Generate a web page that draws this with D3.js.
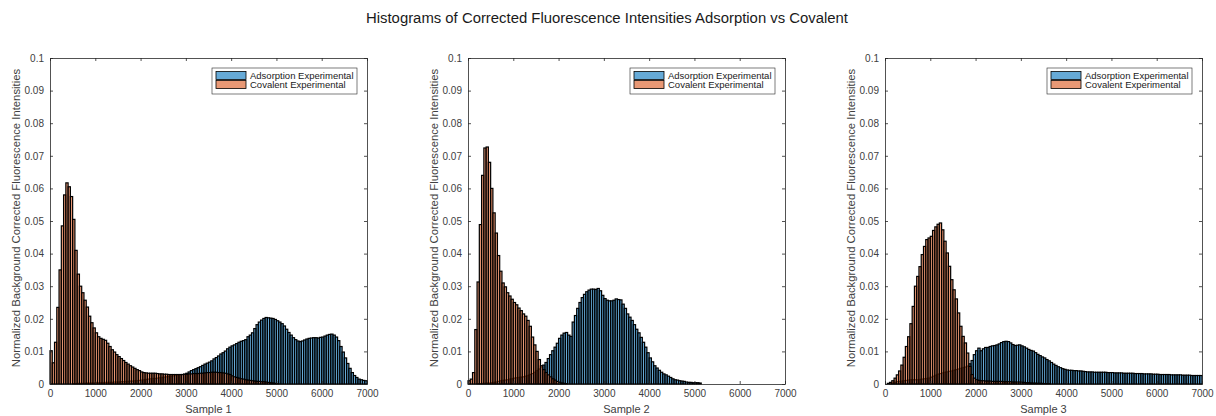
<!DOCTYPE html>
<html>
<head>
<meta charset="utf-8">
<script src="https://cdn.jsdelivr.net/npm/d3@7"></script>
<style>
  body { margin: 0; background: #fff; }
  text { font-family: "Liberation Sans", Arial, Helvetica, sans-serif; }
</style>
</head>
<body>
<div id="chart"></div>
<script>
// bins are 50 wide, starting at 0
var binWidth = 50;
var xTicks = [0, 1000, 2000, 3000, 4000, 5000, 6000, 7000];
var yTicks = [0, 0.01, 0.02, 0.03, 0.04, 0.05, 0.06, 0.07, 0.08, 0.09, 0.1];
var sampleNames = ["Sample 1", "Sample 2", "Sample 3"];
var seriesNames = ["Adsorption Experimental", "Covalent Experimental"];

// Sample 1
var adsorption1 = [
  0,0,0,0,0,0,0,0,0,0,
  0.0001,0.0001,0.0002,0.0002,0.0002,0.0002,0.0003,0.0003,0.0003,0.0003,
  0.0004,0.0004,0.0004,0.0004,0.0005,0.0005,0.0005,0.0005,0.0006,0.0006,
  0.0006,0.0007,0.0007,0.0008,0.0008,0.0009,0.0009,0.0010,0.0010,0.0011,
  0.0012,0.0013,0.0014,0.0015,0.0016,0.0017,0.0017,0.0018,0.0019,0.0020,
  0.0021,0.0022,0.0023,0.0024,0.0025,0.0026,0.0027,0.0028,0.0029,0.0030,
  0.0033,0.0037,0.0041,0.0044,0.0047,0.0050,0.0053,0.0057,0.0061,0.0064,
  0.0067,0.0071,0.0077,0.0081,0.0086,0.0092,0.0096,0.0101,0.0108,0.0113,
  0.0117,0.0120,0.0124,0.0128,0.0131,0.0133,0.0136,0.0145,0.0150,0.0157,
  0.0170,0.0182,0.0190,0.0196,0.0201,0.0204,0.0203,0.0202,0.0201,0.0198,
  0.0194,0.0190,0.0185,0.0178,0.0168,0.0158,0.0150,0.0142,0.0136,0.0132,
  0.0130,0.0132,0.0135,0.0138,0.0140,0.0141,0.0142,0.0142,0.0141,0.0143,
  0.0144,0.0147,0.0150,0.0152,0.0153,0.0150,0.0144,0.0133,0.0115,0.0098,
  0.0080,0.0063,0.0048,0.0035,0.0026,0.0020,0.0015,0.0013,0.0011,0.0010
];
var covalent1 = [
  0.0102,0.0065,0.0128,0.0235,0.0350,0.0485,0.0580,0.0617,0.0605,0.0575,
  0.0505,0.0410,0.0337,0.0300,0.0280,0.0257,0.0236,0.0208,0.0188,0.0172,
  0.0157,0.0145,0.0140,0.0137,0.0134,0.0125,0.0115,0.0105,0.0098,0.0090,
  0.0084,0.0078,0.0072,0.0066,0.0061,0.0056,0.0052,0.0048,0.0044,0.0041,
  0.0037,0.0035,0.0034,0.0033,0.0033,0.0033,0.0033,0.0032,0.0031,0.0031,
  0.0030,0.0030,0.0029,0.0029,0.0029,0.0029,0.0029,0.0029,0.0029,0.0030,
  0.0030,0.0031,0.0031,0.0032,0.0032,0.0032,0.0033,0.0033,0.0034,0.0035,
  0.0035,0.0036,0.0036,0.0036,0.0035,0.0035,0.0034,0.0033,0.0031,0.0029,
  0.0025,0.0022,0.0020,0.0018,0.0016,0.0015,0.0013,0.0012,0.0011,0.0010,
  0.0009,0.0008,0.0008,0.0007,0.0007,0.0006,0.0005,0.0004,0.0003,0.0002,
  0.0001
];

// Sample 2
var adsorption2 = [
  0,0,0,0,0.0001,0.0001,0.0002,0.0002,0.0003,0.0003,
  0.0004,0.0005,0.0006,0.0008,0.0010,0.0011,0.0012,0.0013,0.0015,0.0016,
  0.0018,0.0019,0.0020,0.0021,0.0022,0.0024,0.0026,0.0029,0.0032,0.0036,
  0.0041,0.0046,0.0052,0.0058,0.0066,0.0078,0.0090,0.0102,0.0113,0.0125,
  0.0140,0.0150,0.0156,0.0158,0.0150,0.0146,0.0190,0.0210,0.0232,0.0250,
  0.0265,0.0275,0.0283,0.0288,0.0291,0.0291,0.0290,0.0293,0.0286,0.0272,
  0.0262,0.0257,0.0255,0.0255,0.0257,0.0261,0.0259,0.0258,0.0245,0.0232,
  0.0215,0.0205,0.0195,0.0182,0.0168,0.0157,0.0143,0.0128,0.0113,0.0096,
  0.0080,0.0068,0.0056,0.0049,0.0042,0.0036,0.0031,0.0028,0.0024,0.0020,
  0.0016,0.0013,0.0012,0.0010,0.0009,0.0008,0.0006,0.0005,0.0005,0.0004,
  0.0004,0.0004,0.0003
];
var covalent2 = [
  0.0010,0.0015,0.0035,0.0167,0.0313,0.0489,0.0640,0.0724,0.0727,0.0680,
  0.0600,0.0525,0.0463,0.0394,0.0346,0.0310,0.0298,0.0280,0.0270,0.0260,
  0.0250,0.0243,0.0233,0.0225,0.0215,0.0208,0.0195,0.0177,0.0144,0.0120,
  0.0100,0.0075,0.0056,0.0044,0.0035,0.0028,0.0022,0.0016,0.0012,0.0008,
  0.0005,0.0003,0.0002,0.0001
];

// Sample 3
var adsorption3 = [
  0,0,0.0001,0.0003,0.0005,0.0007,0.0008,0.0009,0.0010,0.0011,
  0.0012,0.0013,0.0013,0.0013,0.0013,0.0014,0.0015,0.0016,0.0017,0.0018,
  0.0021,0.0024,0.0027,0.0030,0.0032,0.0034,0.0036,0.0037,0.0039,0.0040,
  0.0042,0.0044,0.0046,0.0048,0.0050,0.0052,0.0055,0.0062,0.0072,0.0090,
  0.0102,0.0110,0.0102,0.0108,0.0112,0.0112,0.0115,0.0117,0.0118,0.0120,
  0.0123,0.0127,0.0130,0.0131,0.0130,0.0126,0.0121,0.0118,0.0119,0.0120,
  0.0117,0.0114,0.0110,0.0106,0.0103,0.0101,0.0096,0.0091,0.0087,0.0083,
  0.0080,0.0075,0.0071,0.0066,0.0061,0.0057,0.0053,0.0050,0.0047,0.0045,
  0.0043,0.0042,0.0042,0.0041,0.0041,0.0040,0.0040,0.0039,0.0038,0.0037,
  0.0037,0.0037,0.0036,0.0036,0.0036,0.0036,0.0036,0.0036,0.0035,0.0035,
  0.0035,0.0034,0.0034,0.0034,0.0034,0.0033,0.0033,0.0033,0.0033,0.0033,
  0.0032,0.0032,0.0032,0.0032,0.0031,0.0031,0.0031,0.0031,0.0030,0.0030,
  0.0030,0.0029,0.0029,0.0029,0.0029,0.0029,0.0028,0.0028,0.0028,0.0028,
  0.0028,0.0027,0.0027,0.0027,0.0027,0.0026,0.0026,0.0026,0.0026,0.0026
];
var covalent3 = [
  0,0.0002,0.0005,0.0010,0.0018,0.0028,0.0040,0.0058,0.0082,0.0115,
  0.0145,0.0185,0.0238,0.0300,0.0330,0.0360,0.0397,0.0422,0.0443,0.0448,
  0.0453,0.0471,0.0482,0.0490,0.0494,0.0473,0.0438,0.0402,0.0361,0.0320,
  0.0289,0.0261,0.0218,0.0177,0.0146,0.0126,0.0095,0.0054,0.0029,0.0018,
  0.0013,0.0011,0.0010,0.0010,0.0009,0.0009,0.0009,0.0008,0.0008,0.0008,
  0.0008,0.0008,0.0007,0.0007,0.0007,0.0007,0.0006,0.0006,0.0006,0.0006,
  0.0005,0.0005,0.0004,0.0004,0.0003,0.0003,0.0003,0.0002,0.0002,0.0002,
  0.0001,0.0001,0.0001
];

var adsorptionData = [adsorption1, adsorption2, adsorption3];
var covalentData = [covalent1, covalent2, covalent3];

var svgWidth = 1216;
var svgHeight = 416;

// where each axes box sits in the figure
var panelLeft = [50, 468, 885];
var panelTop = 58;
var panelWidth = 317;
var panelHeight = 326;

var blue = "rgb(0,114,189)";
var orange = "rgb(217,83,25)";
var axisColor = "#262626";
var labelColor = "#404040";

var svg = d3
  .select("#chart")
  .append("svg")
  .attr("width", svgWidth)
  .attr("height", svgHeight);

svg.append("text")
  .attr("x", 607)
  .attr("y", 23)
  .attr("text-anchor", "middle")
  .attr("textLength", 482)
  .attr("lengthAdjust", "spacingAndGlyphs")
  .style("font-size", "14px")
  .attr("fill", "#1a1a1a")
  .text("Histograms of Corrected Fluorescence Intensities Adsorption vs Covalent");

var xScale = d3.scaleLinear().domain([0, 7000]).range([0, panelWidth]);
var yScale = d3.scaleLinear().domain([0, 0.1]).range([panelHeight, 0]);

function drawBars(g, values, color) {
  g.append("g")
    .selectAll("rect")
    .data(values)
    .enter()
    .append("rect")
    .attr("x", (d, i) => xScale(i * binWidth))
    .attr("y", d => yScale(d))
    .attr("width", xScale(binWidth) - xScale(0))
    .attr("height", d => panelHeight - yScale(d))
    .attr("fill", color)
    .attr("fill-opacity", 0.6)
    .attr("stroke", "#000")
    .attr("stroke-width", 1.2);
}

sampleNames.forEach(function(name, p) {
  var chartGroup = svg.append("g")
    .attr("transform", `translate(${panelLeft[p]}, ${panelTop})`);

  // histograms, adsorption first then covalent on top
  drawBars(chartGroup, adsorptionData[p], blue);
  drawBars(chartGroup, covalentData[p], orange);

  // axes with inward ticks, mirrored on top/right
  var bottomAxis = d3.axisBottom(xScale).tickValues(xTicks).tickSizeInner(-3).tickSizeOuter(0).tickPadding(6)
    .tickFormat(d3.format("d"));
  var leftAxis = d3.axisLeft(yScale).tickValues(yTicks).tickSizeInner(-3).tickSizeOuter(0).tickPadding(6)
    .tickFormat(d => d === 0 ? "0" : String(+d.toFixed(2)));
  var topAxis = d3.axisTop(xScale).tickValues(xTicks).tickSizeInner(-3).tickSizeOuter(0).tickFormat("");
  var rightAxis = d3.axisRight(yScale).tickValues(yTicks).tickSizeInner(-3).tickSizeOuter(0).tickFormat("");

  var xAxis = chartGroup.append("g")
    .attr("transform", `translate(0, ${panelHeight})`)
    .call(bottomAxis);
  var yAxis = chartGroup.append("g").call(leftAxis);
  var xAxisTop = chartGroup.append("g").call(topAxis);
  var yAxisRight = chartGroup.append("g")
    .attr("transform", `translate(${panelWidth}, 0)`)
    .call(rightAxis);

  [xAxis, yAxis, xAxisTop, yAxisRight].forEach(function(a) {
    a.select(".domain").attr("stroke", axisColor).attr("stroke-width", 0.8);
    a.selectAll(".tick line").attr("stroke", axisColor).attr("stroke-width", 0.8);
    a.selectAll("text").attr("fill", labelColor).style("font-size", "10px").style("font-family", "Liberation Sans, Arial, sans-serif");
  });

  chartGroup.append("text")
    .attr("x", panelWidth / 2)
    .attr("y", panelHeight + 29)
    .attr("text-anchor", "middle")
    .attr("fill", labelColor)
    .style("font-size", "11px")
    .text(name);

  chartGroup.append("text")
    .attr("transform", "rotate(-90)")
    .attr("x", -panelHeight / 2 + 3)
    .attr("y", -30)
    .attr("text-anchor", "middle")
    .attr("fill", labelColor)
    .style("font-size", "11.3px")
    .text("Normalized Background Corrected Fluorescence Intensities");

  // legend box
  var legend = chartGroup.append("g")
    .attr("transform", `translate(${panelWidth - 155}, 10)`);
  legend.append("rect")
    .attr("width", 145)
    .attr("height", 26)
    .attr("fill", "#fff")
    .attr("stroke", axisColor)
    .attr("stroke-width", 0.6);
  [blue, orange].forEach(function(c, i) {
    legend.append("rect")
      .attr("x", 4)
      .attr("y", 3.5 + i * 9)
      .attr("width", 30)
      .attr("height", 8)
      .attr("fill", c)
      .attr("fill-opacity", 0.6)
      .attr("stroke", "#000")
      .attr("stroke-width", 0.8);
    legend.append("text")
      .attr("x", 38)
      .attr("y", 10.8 + i * 9)
      .attr("fill", "#1a1a1a")
      .style("font-size", "9.5px")
      .text(seriesNames[i]);
  });
});
</script>
</body>
</html>
